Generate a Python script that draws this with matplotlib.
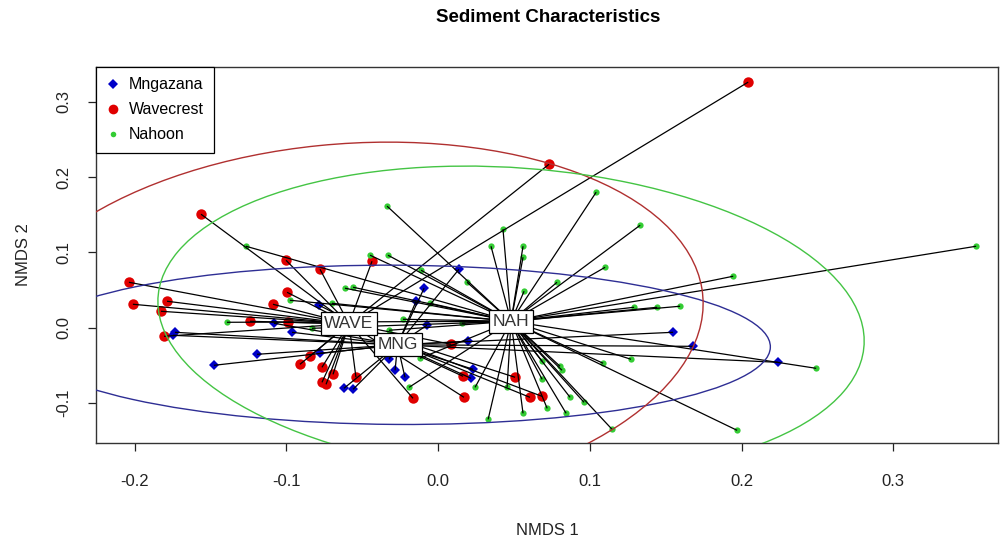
import matplotlib
matplotlib.use("Agg")
import matplotlib.pyplot as plt
from matplotlib.patches import Ellipse
from matplotlib.collections import LineCollection
from matplotlib.lines import Line2D

plt.rcParams['font.family'] = ['Liberation Sans', 'DejaVu Sans']

# NMDS site scores
mng_x = [-0.0092, -0.0145, -0.0073, 0.0138, -0.0784, -0.1081, -0.0962, -0.1734,
         -0.1747, -0.1193, -0.0778, -0.1477, -0.0620, -0.0560, -0.0323, -0.0283,
         -0.0218, 0.0198, 0.0231, 0.0218, 0.1549, 0.1681, 0.2241]
mng_y = [0.0525, 0.0352, 0.0033, 0.0777, 0.0299, 0.0060, -0.0060, -0.0060,
         -0.0100, -0.0352, -0.0339, -0.0498, -0.0803, -0.0817, -0.0418, -0.0564,
         -0.0657, -0.0179, -0.0551, -0.0671, -0.0060, -0.0246, -0.0458]

wave_x = [0.2044, 0.0732, -0.1562, -0.1002, -0.0435, -0.0778, -0.2037, -0.0995,
          -0.2011, -0.1786, -0.1088, -0.1826, -0.1239, -0.0989, -0.1806, -0.0844,
          -0.0910, -0.0765, -0.0692, -0.0541, -0.0765, -0.0738, -0.0165, 0.0086,
          0.0165, 0.0508, 0.0171, 0.0606, 0.0686]
wave_y = [0.3260, 0.2171, 0.1507, 0.0896, 0.0883, 0.0777, 0.0604, 0.0471,
          0.0312, 0.0352, 0.0312, 0.0219, 0.0086, 0.0073, -0.0113, -0.0378,
          -0.0485, -0.0525, -0.0618, -0.0657, -0.0724, -0.0750, -0.0936, -0.0219,
          -0.0644, -0.0657, -0.0923, -0.0923, -0.0910]

nah_x = [-0.1266, -0.0336, -0.0448, -0.0330, -0.0613, -0.0560, -0.0976, -0.0699,
         -0.1391, -0.0831, -0.0231, -0.0323, -0.0119, -0.0191, -0.0112, -0.0053,
         0.0158, 0.0191, 0.0349, 0.0560, 0.0560, 0.0567, 0.0428, 0.1042,
         0.1332, 0.1101, 0.0784, 0.1292, 0.1444, 0.1595, 0.1945, 0.3546,
         0.2492, 0.1971, 0.1272, 0.0686, 0.1088, 0.0804, 0.0817, 0.0686,
         0.0244, 0.0455, 0.0870, 0.0962, 0.0719, 0.0560, 0.0844, 0.0330, 0.1147]
nah_y = [0.1082, 0.1614, 0.0963, 0.0963, 0.0525, 0.0538, 0.0365, 0.0325,
         0.0073, -0.0007, 0.0113, -0.0033, -0.0405, -0.0790, 0.0764, 0.0325,
         0.0060, 0.0604, 0.1082, 0.1082, 0.0936, 0.0485, 0.1308, 0.1799,
         0.1361, 0.0803, 0.0604, 0.0272, 0.0272, 0.0286, 0.0684, 0.1082,
         -0.0538, -0.1361, -0.0418, -0.0445, -0.0471, -0.0511, -0.0564, -0.0684,
         -0.0790, -0.0790, -0.0923, -0.0989, -0.1069, -0.1135, -0.1135, -0.1215, -0.1348]

# group centroids (spider centres / labels)
cent_labels = ['MNG', 'WAVE', 'NAH']
cent_x = [-0.0267, -0.0587, 0.0481]
cent_y = [-0.0226, 0.0053, 0.0086]

# ellipse shapes (full width, height, angle in degrees)
ell_w = [0.4914, 0.5012, 0.4764]
ell_h = [0.2113, 0.4462, 0.3992]
ell_ang = [-0.76, 53.1, -23.0]

names = ['Mngazana', 'Wavecrest', 'Nahoon']
pt_cols = ['#0000c8', '#e00000', '#33cc33']
ell_cols = ['#2e2e94', '#b03030', '#44c444']
markers = ['D', 'o', 'o']
msizes = [5.5, 7.5, 4.5]

groups = [(mng_x, mng_y), (wave_x, wave_y), (nah_x, nah_y)]

fig = plt.figure(figsize=(10, 5.45), dpi=100)
ax = fig.add_axes([0.096, 0.187, 0.902, 0.690])

for i, (gx, gy) in enumerate(groups):
    ax.plot(gx, gy, linestyle='none', marker=markers[i], color=pt_cols[i],
            markersize=msizes[i], markeredgewidth=0, zorder=2)

for i, (gx, gy) in enumerate(groups):
    segs = [[(cent_x[i], cent_y[i]), (px, py)] for px, py in zip(gx, gy)]
    ax.add_collection(LineCollection(segs, colors='black', linewidths=0.9, zorder=3))

for i in range(3):
    ax.add_patch(Ellipse((cent_x[i], cent_y[i]), ell_w[i], ell_h[i], angle=ell_ang[i],
                         fill=False, edgecolor=ell_cols[i], linewidth=1.0, zorder=4))

for lab, cx, cy in zip(cent_labels, cent_x, cent_y):
    ax.text(cx, cy, lab, ha='center', va='center', fontsize=12.5, color='#333333', zorder=6,
            bbox=dict(boxstyle='square,pad=0.22', facecolor='white', edgecolor='black', linewidth=0.9))

ax.set_xlim(-0.2254, 0.369)
ax.set_ylim(-0.153, 0.346)
ax.set_xticks([-0.2, -0.1, 0.0, 0.1, 0.2, 0.3])
ax.set_xticklabels(['-0.2', '-0.1', '0.0', '0.1', '0.2', '0.3'])
ax.set_yticks([-0.1, 0.0, 0.1, 0.2, 0.3])
ax.set_yticklabels(['-0.1', '0.0', '0.1', '0.2', '0.3'], rotation=90, va='center')
ax.tick_params(direction='out', length=6, width=0.9, labelsize=12, colors='#222222')
ax.tick_params(axis='x', pad=16)
ax.tick_params(axis='y', pad=12)
for sp in ax.spines.values():
    sp.set_linewidth(1.0)
    sp.set_color('#333333')

handles = [Line2D([], [], linestyle='none', marker=markers[i], color=pt_cols[i],
                  markersize=msizes[i] - 0.5, markeredgewidth=0) for i in range(3)]
leg = ax.legend(handles, names, loc='upper left', borderaxespad=0, fontsize=11.5,
                frameon=True, fancybox=False, edgecolor='black', framealpha=1,
                handlelength=0.8, handletextpad=0.6, labelspacing=0.62, borderpad=0.65)
leg.get_frame().set_linewidth(0.9)

fig.text(0.548, 0.967, 'Sediment Characteristics', ha='center', va='center',
         fontsize=13.5, fontweight='bold')
fig.text(0.547, 0.027, 'NMDS 1', ha='center', va='center', fontsize=12, color='#222222')
fig.text(0.024, 0.532, 'NMDS 2', ha='center', va='center', fontsize=12, rotation=90, color='#222222')

fig.savefig('out.png', dpi=100)
